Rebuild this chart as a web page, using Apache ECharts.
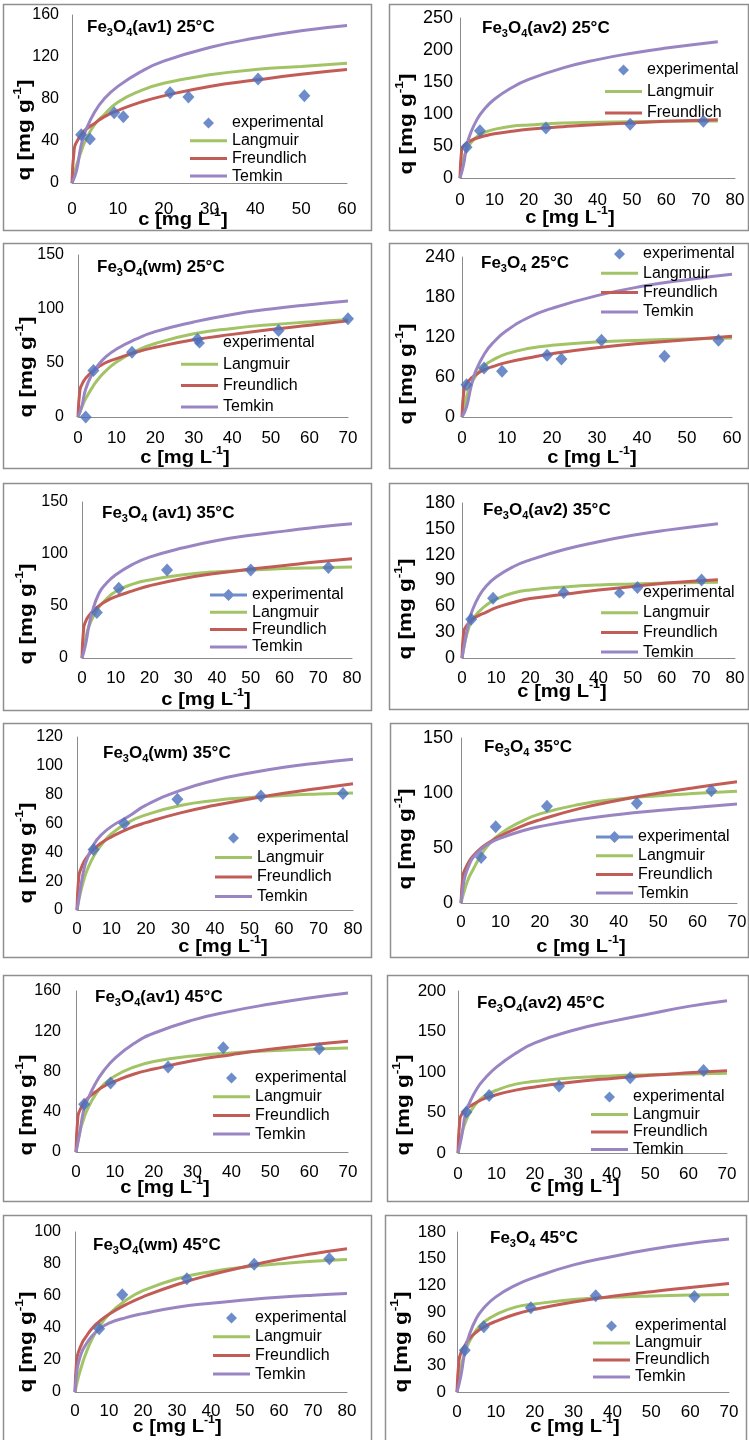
<!DOCTYPE html>
<html><head><meta charset="utf-8">
<script src="https://cdn.jsdelivr.net/npm/echarts/dist/echarts.min.js"></script>
<style>html,body{margin:0;padding:0;background:#fff}#c{width:749px;height:1440px}</style>
</head><body><div id="c"></div>
<script>
// ---------- DATA ----------
const seriesNames = ['experimental', 'Langmuir', 'Freundlich', 'Temkin'];
const titleSuffix = ['(av1) 25°C', '(av2) 25°C', '(wm) 25°C', ' 25°C', ' (av1) 35°C', '(av2) 35°C',
                     '(wm) 35°C', ' 35°C', '(av1) 45°C', '(av2) 45°C', '(wm) 45°C', ' 45°C'];
const xMaxes = [60, 80, 70, 60, 80, 80, 80, 70, 70, 70, 80, 70];
const xSteps = [10, 10, 10, 10, 10, 10, 10, 10, 10, 10, 10, 10];
const yMaxes = [160, 250, 150, 240, 150, 180, 120, 150, 160, 200, 100, 180];
const ySteps = [40, 50, 50, 60, 50, 30, 20, 50, 40, 50, 20, 30];

// Panel 1: Fe3O4(av1) 25°C
const p1Exp = [[2,46],[3.9,42],[9.2,67],[11.2,63],[21.4,86],[25.4,82],[40.6,99],[50.7,83]];
const p1Lang = [[0,0],[0.5,9],[1,17],[2,30],[3,41],[5,56],[7,65],[10,77],[15,88],[20,95],[30,103],[40,108],[50,111],[60,114]];
const p1Freu = [[0,0],[0.5,33],[1,39],[2,46],[3,51],[5,57],[7,63],[10,69],[15,77],[20,83],[30,92],[40,98],[50,103.5],[60,108]];
const p1Temk = [[0,0],[1,12],[2,36],[3,50],[5,68],[7,80],[10,92],[15,106],[20,116],[30,129],[40,138],[50,145],[60,150]];
// Panel 2: Fe3O4(av2) 25°C
const p2Exp = [[1.9,48],[5.8,74],[25,78],[49.5,84],[70.8,88.5]];
const p2Lang = [[0,0],[0.5,17],[1,30],[2,45],[3,54],[5,65],[7,71],[10,76],[15,81],[20,83],[30,86],[40,87],[50,88],[60,88.5],[75,89]];
const p2Freu = [[0,0],[0.5,45],[1,50],[2,55],[3,58],[5,62.5],[7,65.5],[10,69],[15,73],[20,76],[30,80],[40,83.5],[50,86],[60,88.5],[75,91]];
const p2Temk = [[0,0],[1,20],[2,51],[3,69],[5,92],[7,107],[10,123],[15,141],[20,154],[30,172],[40,185],[50,195],[60,203],[75,213]];
// Panel 3: Fe3O4(wm) 25°C
const p3Exp = [[2,0],[4,43],[14,60],[31,72],[52,80],[70,91]];
const p3Lang = [[0,0],[1,9],[2,17],[4,29],[5,34],[7,42],[10,51],[15,61],[20,68],[30,77],[40,82],[50,85.5],[60,88],[70,90]];
const p3Freu = [[0,0],[0.5,25],[1,30],[2,36],[4,43],[7,50],[10,54],[15,60],[20,64.5],[30,71.5],[40,76.5],[50,81],[60,85],[70,89]];
const p3Temk = [[0,0],[1,10],[2,26],[4,42],[5,47],[7,55],[10,63],[15,72],[20,79],[30,88],[40,95],[50,100],[60,104],[70,107.5]];
// Panel 4: Fe3O4 25°C
const p4Exp = [[1,48.5],[4.9,73.5],[8.9,68.5],[18.9,92.5],[22.1,87],[31,115],[45,91],[57,115]];
const p4Lang = [[0,0],[1,30],[2,49],[3,61],[5,77],[7,86],[10,95],[15,103],[20,107.5],[30,112.5],[40,115],[50,117],[60,118.5]];
const p4Freu = [[0,0],[0.5,43.5],[1,50],[2,58],[3,63.5],[5,71],[7,76],[10,82],[15,89],[20,95],[30,104],[40,110.5],[50,116],[60,121]];
const p4Temk = [[0,0],[1,15],[2,45],[3,68],[5,95],[7,112],[10,130],[15,150],[20,163],[30,182],[40,196],[50,206],[60,214]];
// Panel 5: Fe3O4 (av1) 35°C
const p5Exp = [[4.4,43.7],[10.9,67],[25.2,84.6],[50,84.6],[73,87]];
const p5Lang = [[0,0],[1,17],[2,30],[4,44],[5,49],[7,56],[10,64],[15,71],[20,75],[30,80],[40,83],[50,84.5],[60,86],[70,86.8],[80,87.5]];
const p5Freu = [[0,0],[0.5,29],[1,34.5],[2,40.5],[4,47.5],[5,50],[7,54.5],[10,59],[15,64.5],[20,69.5],[30,76.5],[40,81.5],[50,85.5],[60,89],[70,92.5],[80,95.5]];
const p5Temk = [[0,0],[1,12],[2,30],[3,44],[5,62],[7,71],[10,80],[15,90],[20,97],[30,106],[40,113],[50,118],[60,122],[70,126],[80,129]];
// Panel 6: Fe3O4(av2) 35°C
const p6Exp = [[2.7,45],[9.1,69.4],[29.8,76],[51.4,82],[70.2,90.6]];
const p6Lang = [[0,0],[1,21],[2,35],[3,44],[5,54],[7,61],[10,68.5],[15,75.5],[20,79],[30,82.5],[40,84.8],[50,86],[60,87],[75,88]];
const p6Freu = [[0,0],[0.5,30.5],[1,35.5],[2,41],[3,45],[5,49.5],[7,53],[10,58.5],[15,64.5],[20,69],[30,74],[40,79],[50,83],[60,87],[75,91]];
const p6Temk = [[0,0],[1,22],[2,42],[3,55],[5,72],[7,83],[10,94],[15,106],[20,114],[30,126],[40,135],[50,142.5],[60,148.5],[75,156]];
// Panel 7: Fe3O4(wm) 35°C
const p7Exp = [[4.8,42],[13.7,60],[29.1,76.8],[53.3,79],[77.1,80.8]];
const p7Lang = [[0,0],[1,12],[2,21],[3,28],[5,38],[7,45],[10,53],[15,61],[20,66],[30,72.5],[40,76],[50,78],[60,79.5],[70,80.5],[80,81.2]];
const p7Freu = [[0,0],[0.5,23],[1,27.7],[2,33.3],[3,37],[5,42.5],[7,46.5],[10,50.7],[15,56.5],[20,60.6],[30,67.4],[40,72.6],[50,77],[60,81],[70,84.3],[80,87.5]];
const p7Temk = [[0,0],[1,15],[2,28],[3,36],[5,46],[7,52],[10,58],[15,65],[20,72.7],[30,83],[40,90],[50,95],[60,99],[70,102],[80,104.5]];
// Panel 8: Fe3O4 35°C
const p8Exp = [[5.1,41.4],[8.8,69.4],[21.8,88],[44.6,90.7],[63.5,102]];
const p8Lang = [[0,0],[1,13],[2,23],[3,30],[5,43],[7,53],[10,63],[15,73.5],[20,81],[30,89.5],[40,94.5],[50,97.5],[60,99.7],[70,101.5]];
const p8Freu = [[0,0],[0.5,24.6],[1,30.4],[2,37.4],[3,42.5],[5,49.6],[7,54.8],[10,61],[15,69.3],[20,75.6],[30,85.8],[40,93.4],[50,99.8],[60,105.3],[70,110.3]];
const p8Temk = [[0,0],[0.5,14],[1,24],[2,34],[3,41],[5,48.5],[7,54],[10,59],[15,65],[20,69.5],[30,76],[40,80.5],[50,84],[60,87],[70,90]];
// Panel 9: Fe3O4(av1) 45°C
const p9Exp = [[2.1,47.4],[8.9,68.6],[23.7,84.5],[37.9,103.7],[62.6,102.7]];
const p9Lang = [[0,0],[1,20],[2,33],[3,43],[5,57],[7,66.5],[10,75.5],[15,84.5],[20,90],[30,95.5],[40,98.5],[50,100.6],[60,102],[70,103.3]];
const p9Freu = [[0,0],[0.5,35.4],[1,41.5],[2,48.6],[3,53.4],[5,59.6],[7,65],[10,70.3],[15,77.5],[20,82.4],[30,90.7],[40,96.7],[50,102],[60,106.3],[70,110]];
const p9Temk = [[0,0],[1,20],[2,42],[3,52],[5,68],[7,80],[10,93],[15,108],[20,118],[30,131],[40,140],[50,147],[60,153],[70,158]];
// Panel 10: Fe3O4(av2) 45°C
const p10Exp = [[2.2,50.6],[8.1,71],[26.3,82.7],[44.8,93],[63.9,102]];
const p10Lang = [[0,0],[1,24],[2,38.7],[3,49],[5,62.6],[7,70.5],[10,77.5],[15,85],[20,88.5],[30,92.8],[40,95.2],[50,96.6],[60,97.6],[70,98.4]];
const p10Freu = [[0,0],[0.5,42],[1,47.7],[2,54],[3,57.4],[5,63],[7,67.4],[10,72],[15,77.6],[20,81.6],[30,87.6],[40,92.1],[50,95.9],[60,99],[70,101.7]];
const p10Temk = [[0,0],[1,22],[2,50],[3,62],[5,80],[7,92],[10,106],[15,123],[20,136],[30,151.5],[40,162.5],[50,172],[60,181],[70,188]];
// Panel 11: Fe3O4(wm) 45°C
const p11Exp = [[7.1,39.6],[13.9,60.8],[32.9,70.8],[52.7,79.8],[74.8,83.3]];
const p11Lang = [[0,0],[1,9.3],[2,16.6],[3,23],[5,33],[7,40.3],[10,48.6],[15,57.4],[20,63.3],[30,70.8],[40,75.2],[50,78.1],[60,80.1],[70,81.7],[80,82.8]];
const p11Freu = [[0,0],[0.5,20.2],[1,24.8],[2,30.3],[3,33.8],[5,39.7],[7,43.8],[10,48.6],[15,54.6],[20,59.5],[30,67.2],[40,73.3],[50,78.3],[60,82.8],[70,86.4],[80,89.5]];
const p11Temk = [[0,0],[0.5,12],[1,18],[2,25],[3,29],[5,35],[7,39],[10,43],[15,46.5],[20,49],[30,53],[40,55.5],[50,57.5],[60,59.2],[70,60.5],[80,61.5]];
// Panel 12: Fe3O4 45°C
const p12Exp = [[2,47],[6.9,73.4],[19,94.9],[35.7,108.4],[61.1,107.3]];
const p12Lang = [[0,0],[1,27],[2,44],[3,55],[5,70],[7,79],[10,87],[15,95.5],[20,99],[30,104],[40,106.5],[50,108],[60,109],[70,109.8]];
const p12Freu = [[0,0],[0.5,35],[1,44],[2,52],[3,59],[5,67.5],[7,73.4],[10,79.5],[15,87.5],[20,93],[30,101.3],[40,107.6],[50,112.9],[60,117.5],[70,122]];
const p12Temk = [[0,0],[1,18],[2,45],[3,62],[5,83],[7,95],[10,107],[15,120],[20,129],[30,143],[40,152.5],[50,160.5],[60,167],[70,172]];

const expData = [p1Exp,p2Exp,p3Exp,p4Exp,p5Exp,p6Exp,p7Exp,p8Exp,p9Exp,p10Exp,p11Exp,p12Exp];
const langData = [p1Lang,p2Lang,p3Lang,p4Lang,p5Lang,p6Lang,p7Lang,p8Lang,p9Lang,p10Lang,p11Lang,p12Lang];
const freuData = [p1Freu,p2Freu,p3Freu,p4Freu,p5Freu,p6Freu,p7Freu,p8Freu,p9Freu,p10Freu,p11Freu,p12Freu];
const temkData = [p1Temk,p2Temk,p3Temk,p4Temk,p5Temk,p6Temk,p7Temk,p8Temk,p9Temk,p10Temk,p11Temk,p12Temk];
const legendShowsTemkin = [true,false,true,true,true,true,true,true,true,true,true,true];

// ---------- LAYOUT / STYLE ----------
const FONT = '"Liberation Sans", Arial, Helvetica, sans-serif';
const COL = {exp:'#4a6fbd', lang:'#a2c466', freu:'#c25c57', temk:'#9a85c3', axis:'#8a8a8a', box:'#8f8f8f', text:'#000'};
// grid: [left, top, right, bottom] of plot area; box: panel frame; title/xt/yt: text anchors;
// leg: [text start x, first row centre y, row pitch]; xm/ym: tick label margins; yf: y tick font; icon: d=diamond, l=line+diamond
const layout = [
 {grid:[72,15,347,183], box:[3,4,371,230], title:[87,27], xt:[183,220], yt:[25,130], leg:[232,123,17.7], xm:18, ym:13, yf:16, icon:'d'},
 {grid:[460,18,735,178], box:[389,4,748,230], title:[482,28], xt:[570,218], yt:[407,124], leg:[647,70,21.5], xm:14, ym:7, yf:18, icon:'d'},
 {grid:[78,255,348,417], box:[3,243,371,468], title:[97,267], xt:[185,458], yt:[27,367], leg:[223,343,21.3], xm:13, ym:14, yf:16, icon:'d'},
 {grid:[462,257,732,417], box:[389,243,748,468], title:[481,263], xt:[592,458], yt:[407,374], leg:[643,254,19.3], xm:13, ym:7, yf:18, icon:'d'},
 {grid:[82,502,352,658], box:[3,483,371,710], title:[102,513], xt:[206,700], yt:[27,614], leg:[252,595,17.3], xm:12, ym:14, yf:16, icon:'l'},
 {grid:[462,503,735,658], box:[389,483,748,709], title:[483,510], xt:[562,692], yt:[406,609], leg:[643,593,19.7], xm:12, ym:7, yf:18, icon:'d'},
 {grid:[77,737,353,910], box:[3,723,371,957], title:[103,753], xt:[223,947], yt:[27,853], leg:[257,838,19.5], xm:11, ym:14, yf:16, icon:'d'},
 {grid:[461,738,737,903], box:[390,723,748,957], title:[484,747], xt:[581,947], yt:[406,839], leg:[638,837,18.7], xm:11, ym:8, yf:18, icon:'l'},
 {grid:[76,991,348,1152], box:[3,975,371,1201], title:[95,997], xt:[165,1188], yt:[27,1105], leg:[255,1078,18.7], xm:12, ym:15, yf:16, icon:'d'},
 {grid:[458,991,727,1153], box:[387,975,748,1201], title:[477,1003], xt:[575,1187], yt:[404,1105], leg:[633,1097,17.5], xm:13, ym:12, yf:17, icon:'d'},
 {grid:[75,1232,347,1392], box:[3,1215,371,1446], title:[93,1245], xt:[177,1427], yt:[27,1342], leg:[255,1318,18.7], xm:11, ym:14, yf:16, icon:'d'},
 {grid:[457,1232,729,1392], box:[385,1215,746,1446], title:[490,1238], xt:[575,1427], yt:[402,1342], leg:[635,1326,17], xm:12, ym:11, yf:17, icon:'d'}
];
const IW = 37, IH = 14;
const corners = 'M0,0L0.01,0L0,0.01ZM37,14L36.99,14L37,13.99Z';
const iconDiamond = 'path://' + corners + 'M18.5,1.5L24,7L18.5,12.5L13,7Z';
const iconLineDiamond = 'path://' + corners + 'M0,5.5L37,5.5L37,8.5L0,8.5ZM18.5,1L24.5,7L18.5,13L12.5,7Z';
const iconLine = 'path://' + corners + 'M0,5.5L37,5.5L37,8.5L0,8.5Z';

const titleRich = {
  a: {fontSize:17, fontWeight:'bold', fontFamily:FONT, fill:COL.text, lineHeight:20, verticalAlign:'top'},
  s: {fontSize:11, fontWeight:'bold', fontFamily:FONT, fill:COL.text, lineHeight:20, verticalAlign:'bottom'}
};
const axRich = {
  t: {fontSize:18, fontWeight:'bold', fontFamily:FONT, fill:COL.text, lineHeight:22, verticalAlign:'bottom'},
  p: {fontSize:11, fontWeight:'bold', fontFamily:FONT, fill:COL.text, lineHeight:11, verticalAlign:'top'}
};

const grids = [], xAxes = [], yAxes = [], series = [], legends = [], graphics = [];
layout.forEach((L, i) => {
  grids.push({left:L.grid[0], top:L.grid[1], width:L.grid[2]-L.grid[0], height:L.grid[3]-L.grid[1], containLabel:false, outerBoundsMode:'none'});
  xAxes.push({gridIndex:i, type:'value', min:0, max:xMaxes[i], interval:xSteps[i],
    axisLine:{show:true, onZero:false, lineStyle:{color:COL.axis, width:1}}, axisTick:{show:false}, splitLine:{show:false},
    axisLabel:{fontSize:17, color:COL.text, fontFamily:FONT, margin:L.xm, showMinLabel:true, showMaxLabel:true}});
  yAxes.push({gridIndex:i, type:'value', min:0, max:yMaxes[i], interval:ySteps[i],
    axisLine:{show:true, onZero:false, lineStyle:{color:COL.axis, width:1}}, axisTick:{show:false}, splitLine:{show:false},
    axisLabel:{fontSize:L.yf, color:COL.text, fontFamily:FONT, margin:L.ym, showMinLabel:true, showMaxLabel:true}});
  const lineBase = {type:'line', xAxisIndex:i, yAxisIndex:i, smooth:0.5, symbol:'none', silent:true, z:2, animation:false};
  series.push(Object.assign({}, lineBase, {name:'Langmuir', data:langData[i], lineStyle:{width:3, color:COL.lang}, itemStyle:{color:COL.lang}}));
  series.push(Object.assign({}, lineBase, {name:'Freundlich', data:freuData[i], lineStyle:{width:3, color:COL.freu}, itemStyle:{color:COL.freu}}));
  series.push(Object.assign({}, lineBase, {name:'Temkin', data:temkData[i], lineStyle:{width:3, color:COL.temk}, itemStyle:{color:COL.temk}}));
  series.push({type:'scatter', name:'experimental', xAxisIndex:i, yAxisIndex:i, data:expData[i], symbol:'diamond', symbolSize:[12,13],
    itemStyle:{color:COL.exp}, z:5, silent:true, animation:false});

  const legItems = [
    {name:'experimental', icon: L.icon === 'l' ? iconLineDiamond : iconDiamond},
    {name:'Langmuir', icon:iconLine},
    {name:'Freundlich', icon:iconLine}
  ];
  if (legendShowsTemkin[i]) legItems.push({name:'Temkin', icon:iconLine});
  legends.push({orient:'vertical', left:L.leg[0]-IW-5, top:L.leg[1]-L.leg[2]/2, padding:0, itemGap:0,
    itemWidth:IW, itemHeight:IH, selectedMode:false, itemStyle:{borderWidth:0},
    textStyle:{fontSize:16, color:COL.text, fontFamily:FONT, lineHeight:L.leg[2]}, data:legItems});

  graphics.push({type:'rect', silent:true, z:-1, shape:{x:L.box[0]+0.5, y:L.box[1]+0.5, width:L.box[2]-L.box[0], height:L.box[3]-L.box[1]},
    style:{fill:'none', stroke:COL.box, lineWidth:1.5}});
  graphics.push({type:'text', silent:true, x:L.title[0], y:L.title[1]-8.5,
    style:{text:'{a|Fe}{s|3}{a|O}{s|4}{a|' + titleSuffix[i] + '}', rich:titleRich, align:'left', verticalAlign:'top'}});
  graphics.push({type:'text', silent:true, x:L.xt[0], y:L.xt[1]-2, scaleX:1.12,
    style:{text:'{t|c [mg L}{p|-1}{t|]}', rich:axRich, align:'center', verticalAlign:'middle'}});
  graphics.push({type:'text', silent:true, x:L.yt[0]-2, y:L.yt[1], rotation:Math.PI/2, scaleX:1.25,
    style:{text:'{t|q [mg g}{p|-1}{t|]}', rich:axRich, align:'center', verticalAlign:'middle'}});
});

const chart = echarts.init(document.getElementById('c'), null, {renderer:'canvas', width:749, height:1440});
chart.setOption({
  backgroundColor:'#ffffff', animation:false,
  textStyle:{fontFamily:FONT},
  grid:grids, xAxis:xAxes, yAxis:yAxes, legend:legends, series:series, graphic:graphics
});
</script></body></html>
